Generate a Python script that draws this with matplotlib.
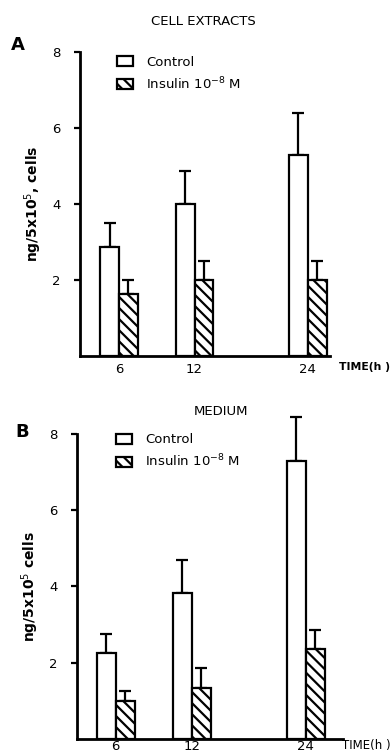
import numpy as np
import matplotlib
matplotlib.use("Agg")
import matplotlib.pyplot as plt
from matplotlib.patches import Patch

plt.rcParams["font.family"] = ["DejaVu Sans"]
plt.rcParams["hatch.linewidth"] = 1.6

times = ["6", "12", "24"]
group_x = [0.0, 1.0, 2.5]

# panel A - cell extracts
a_control = [2.87, 4.0, 5.3]
a_control_err = [0.63, 0.88, 1.09]
a_insulin = [1.63, 2.0, 2.0]
a_insulin_err = [0.37, 0.5, 0.5]

# panel B - medium
b_control = [2.25, 3.82, 7.3]
b_control_err = [0.5, 0.88, 1.15]
b_insulin = [1.0, 1.35, 2.35]
b_insulin_err = [0.25, 0.5, 0.5]

W = 0.25


def panel(ax, ctrl, ctrl_err, ins, ins_err, xlim, xpad):
    x = np.array(group_x)
    ax.bar(x - W / 2, ctrl, width=W, color="white", edgecolor="black", linewidth=1.6, zorder=2)
    ax.bar(x + W / 2, ins, width=W, color="white", edgecolor="black", linewidth=1.6,
           hatch="\\\\\\", zorder=2)
    ax.errorbar(x - W / 2, ctrl, yerr=[np.zeros(3), ctrl_err], fmt="none", ecolor="black",
                elinewidth=1.6, capsize=4, capthick=1.6, clip_on=False, zorder=1)
    ax.errorbar(x + W / 2, ins, yerr=[np.zeros(3), ins_err], fmt="none", ecolor="black",
                elinewidth=1.6, capsize=4, capthick=1.6, clip_on=False, zorder=1)
    ax.set_xlim(*xlim)
    ax.set_ylim(0, 8)
    ax.set_yticks([2, 4, 6, 8])
    ax.set_xticks(x)
    ax.set_xticklabels(times)
    ax.tick_params(axis="x", length=0, labelsize=9.5, pad=xpad)
    ax.tick_params(axis="y", length=4, width=1.6, labelsize=9.5, pad=10)
    ax.spines[["top", "right"]].set_visible(False)
    for s in ["left", "bottom"]:
        ax.spines[s].set_linewidth(2)


fig = plt.figure(figsize=(3.92, 7.55), dpi=100)

axA = fig.add_axes([0.204, 0.5285, 0.638, 0.4026])
panel(axA, a_control, a_control_err, a_insulin, a_insulin_err, (-0.517, 2.795), 5)
axA.set_ylabel("ng/5x10$^{5}$, cells", fontsize=10, fontweight="bold", labelpad=6)
fig.text(0.52, 0.972, "CELL EXTRACTS", ha="center", va="center", fontsize=9.5)
fig.text(0.045, 0.94, "A", ha="center", va="center", fontsize=13, fontweight="bold")
fig.text(0.866, 0.514, "TIME(h )", ha="left", va="center", fontsize=7.8, fontweight="bold")

axB = fig.add_axes([0.196, 0.0212, 0.679, 0.404])
panel(axB, b_control, b_control_err, b_insulin, b_insulin_err, (-0.51, 2.99), 0.5)
axB.set_ylabel("ng/5x10$^{5}$ cells", fontsize=10, fontweight="bold", labelpad=6)
fig.text(0.565, 0.455, "MEDIUM", ha="center", va="center", fontsize=9.5)
fig.text(0.056, 0.428, "B", ha="center", va="center", fontsize=13, fontweight="bold")
fig.text(0.872, 0.013, "TIME(h )", ha="left", va="center", fontsize=8.5)

handles = [Patch(facecolor="white", edgecolor="black", linewidth=1.6),
           Patch(facecolor="white", edgecolor="black", linewidth=1.6, hatch="\\\\\\")]
labels = ["Control", "Insulin 10$^{-8}$ M"]
for ax, pos in [(axA, (0.268, 0.942)), (axB, (0.265, 0.442))]:
    ax.legend(handles, labels, loc="upper left", bbox_to_anchor=pos,
              bbox_transform=fig.transFigure, frameon=False, fontsize=9.5,
              handlelength=1.2, handleheight=0.8, handletextpad=1.0, labelspacing=0.5)

fig.savefig("out.png", dpi=100)
